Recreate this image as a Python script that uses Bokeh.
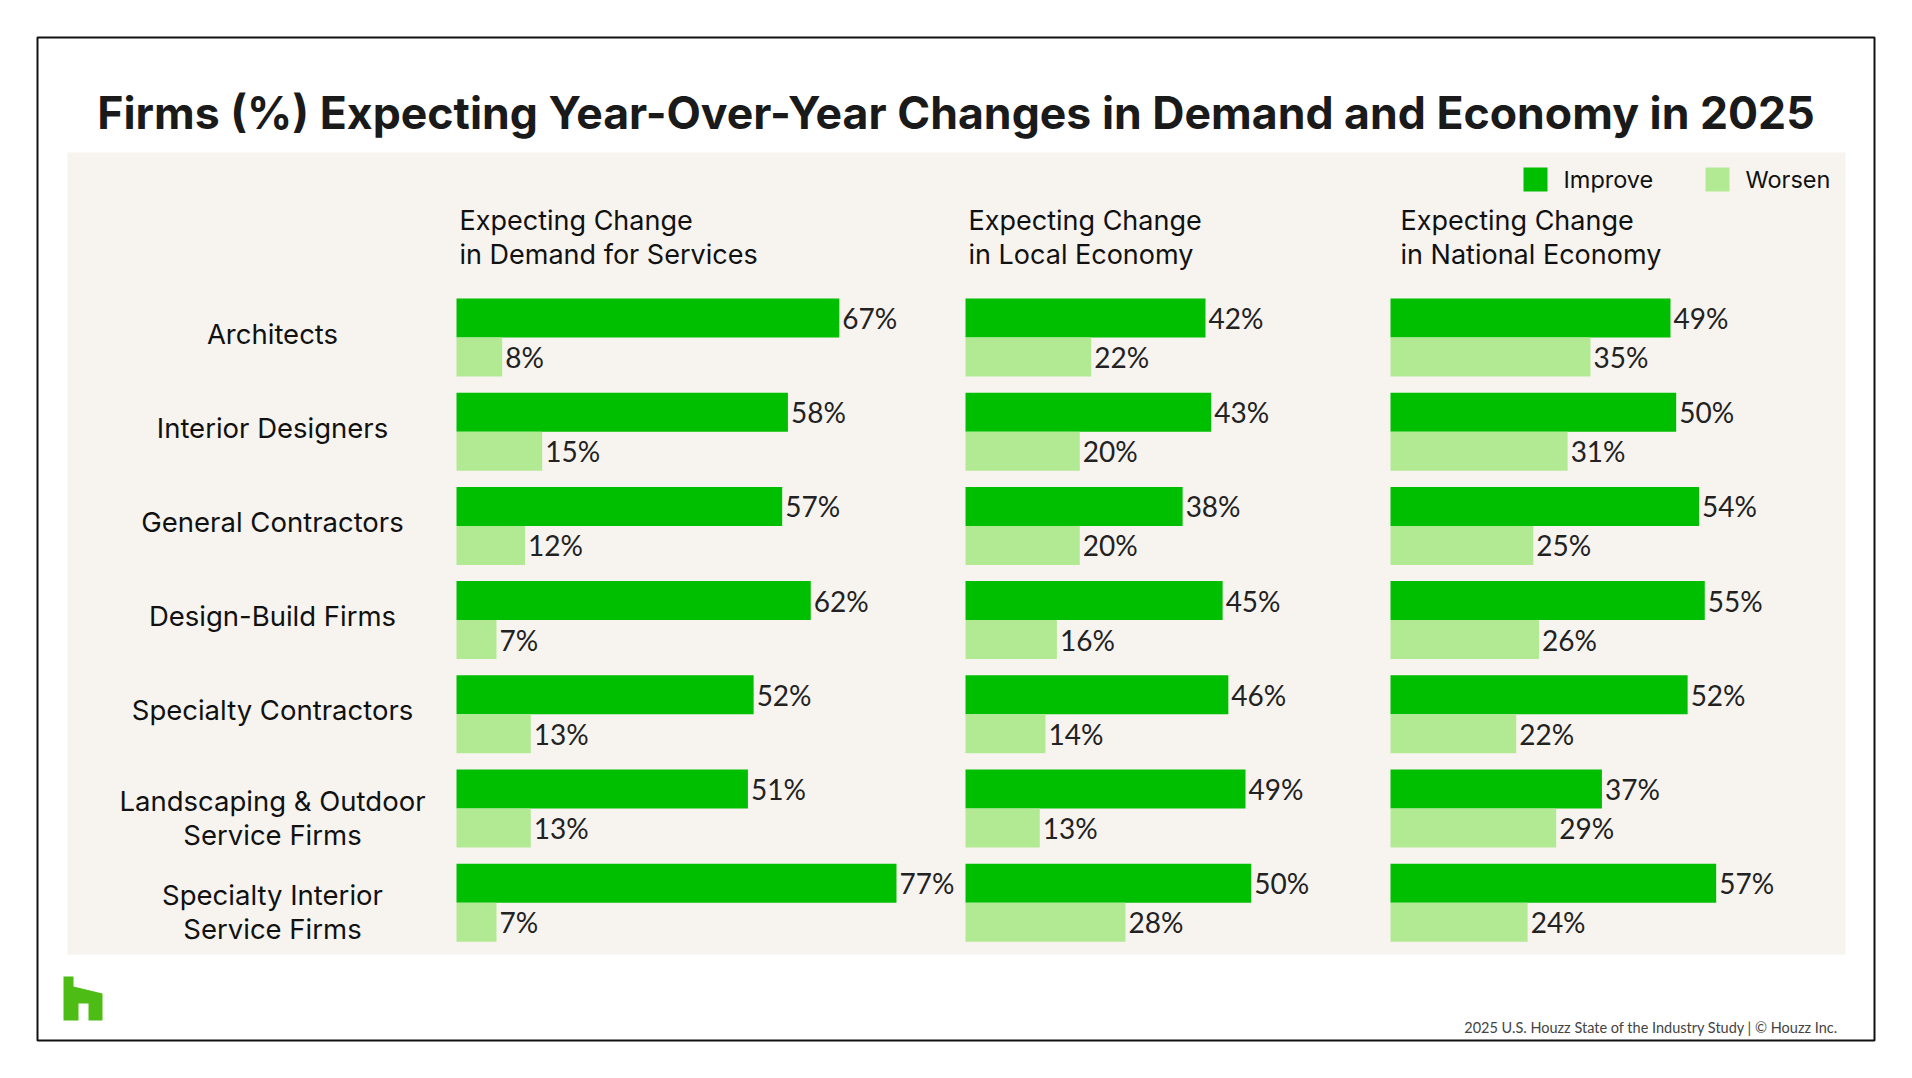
from bokeh.plotting import figure
from bokeh.models import Range1d, ColumnDataSource, Label
from bokeh.core.properties import value
from bokeh.embed import file_html
from bokeh.resources import INLINE

# ---------------- data ----------------
categories = ["Architects", "Interior Designers", "General Contractors",
              "Design-Build Firms", "Specialty Contractors",
              "Landscaping & Outdoor\nService Firms",
              "Specialty Interior\nService Firms"]
panel_titles = [["Expecting Change", "in Demand for Services"],
                ["Expecting Change", "in Local Economy"],
                ["Expecting Change", "in National Economy"]]
demand_improve = [67, 58, 57, 62, 52, 51, 77]
demand_worsen = [8, 15, 12, 7, 13, 13, 7]
local_improve = [42, 43, 38, 45, 46, 49, 50]
local_worsen = [22, 20, 20, 16, 14, 13, 28]
national_improve = [49, 50, 54, 55, 52, 37, 57]
national_worsen = [35, 31, 25, 26, 22, 29, 24]
series_names = ["Improve", "Worsen"]
title_text = "Firms (%) Expecting Year-Over-Year Changes in Demand and Economy in 2025"
footer_text = "2025 U.S. Houzz State of the Industry Study  |  \u00a9 Houzz Inc."

panels = [(demand_improve, demand_worsen),
          (local_improve, local_worsen),
          (national_improve, national_worsen)]

# ---------------- styles / layout ----------------
W, H = 1896, 1062
IMPROVE = "#00BE00"
WORSEN = "#B2EA93"
PANEL_BG = "#F7F4F0"
TXT = "#222222"
FONT = "Inter"
VFONT = "Lato"
PX_PER_PCT = 5.714
COL_X0 = [456, 965, 1390]        # px where 0% sits for each column
ROW0 = 337.0                     # px of first group's centre
ROW_PITCH = 94.2
BAR_H = 39.0 / ROW_PITCH

p = figure(width=W, height=H, x_range=Range1d(0, W), y_range=Range1d(H, 0),
           output_backend="svg", toolbar_location=None, min_border=0,
           x_axis_location=None, y_axis_location=None,
           outline_line_color=None, background_fill_color="white",
           border_fill_color="white")
p.grid.visible = False

# frame decorations
p.quad(left=[37], right=[1874], top=[37], bottom=[1040], fill_color="white",
       line_color="#111111", line_width=2)
p.quad(left=[67], right=[1845], top=[152], bottom=[954], fill_color=PANEL_BG,
       line_color=None)

p.add_layout(Label(x=955.5, y=112, text=title_text, text_align="center",
                   text_baseline="middle", text_font=FONT,
                   text_font_style="bold", text_font_size="44.6px",
                   text_color="#1a1a1a"))

# legend
leg_x = [1523, 1705]
for name, col, lx in zip(series_names, [IMPROVE, WORSEN], leg_x):
    p.quad(left=[lx], right=[lx + 24], top=[167], bottom=[191],
           fill_color=col, line_color=None)
    p.add_layout(Label(x=lx + 40, y=179, text=name, text_align="left",
                       text_baseline="middle", text_font=FONT,
                       text_font_size="23.5px", text_color="#111111"))

# rows range (index -> group centre)
top_val = -ROW0 / ROW_PITCH
bot_val = (H - ROW0) / ROW_PITCH
p.extra_y_ranges = {"rows": Range1d(start=bot_val, end=top_val)}

idx = list(range(len(categories)))
ranges = {}
for k, x0 in enumerate(COL_X0):
    start = -x0 / PX_PER_PCT
    ranges["c%d" % k] = Range1d(start=start, end=start + W / PX_PER_PCT)
p.extra_x_ranges = ranges

off = BAR_H / 2
for k, (imp, wor) in enumerate(panels):
    rn = "c%d" % k
    for vals, col, d in [(imp, IMPROVE, -off), (wor, WORSEN, off)]:
        src = ColumnDataSource(dict(y=[i + d for i in idx], v=vals,
                                    lbl=["%d%%" % v for v in vals]))
        p.hbar(y="y", left=0, right="v", height=BAR_H, source=src,
               fill_color=col, line_color=None,
               x_range_name=rn, y_range_name="rows")
        p.text(x="v", y="y", text="lbl", source=src, x_offset=3,
               text_align="left", text_baseline="middle",
               text_font=value(VFONT), text_font_size="28px", text_color=TXT,
               x_range_name=rn, y_range_name="rows")
    # column header
    hx = COL_X0[k] + 3 + (7 if k == 2 else 0)
    for j, line in enumerate(panel_titles[k]):
        p.add_layout(Label(x=hx, y=219.5 + 34.5 * j, text=line,
                           text_align="left", text_baseline="middle",
                           text_font=FONT, text_font_size="27px",
                           text_color="#111111"))

# category labels
cat_src = ColumnDataSource(dict(
    y=idx, t=categories,
    yo=[9 if "\n" in c else -4 for c in categories]))
p.text(x=272, y="y", text="t", source=cat_src, y_offset="yo",
       y_range_name="rows", text_align="center", text_baseline="middle",
       text_font=value(FONT), text_font_size="27.5px", text_color="#111111",
       text_line_height=1.0)

# logo
lx = [63, 73, 73, 102, 102, 88, 88, 78, 78, 63]
ly = [976, 976, 986, 993, 1020, 1020, 1003, 1003, 1020, 1020]
p.patch(lx, ly, fill_color="#4DBC15", line_color=None)

# footer
p.add_layout(Label(x=1845, y=1027, text=footer_text, text_align="right",
                   text_baseline="middle", text_font=VFONT,
                   text_font_size="14.5px", text_color="#444444"))

open("out.html", "w").write(file_html(p, INLINE))
